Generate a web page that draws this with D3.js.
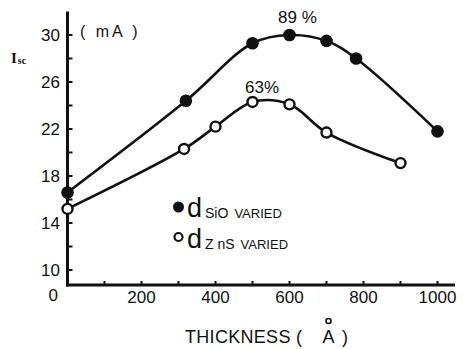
<!DOCTYPE html>
<html>
<head>
<meta charset="utf-8">
<script src="https://cdn.jsdelivr.net/npm/d3@7"></script>
<style>
  html, body { margin: 0; padding: 0; background: #fff; }
  svg { display: block; }
  text { font-family: "Liberation Sans", Arial, sans-serif; fill: #111; }
</style>
</head>
<body>
<svg id="chart" width="464" height="349"></svg>
<script>
// thickness in angstrom, Isc in mA
const sioThickness = [0, 320, 500, 600, 700, 780, 1000];
const sioIsc = [16.6, 24.4, 29.3, 30.0, 29.5, 28.0, 21.8];
const znsThickness = [0, 315, 400, 500, 600, 700, 900];
const znsIsc = [15.2, 20.3, 22.2, 24.3, 24.1, 21.7, 19.1];

const yTickLabels = [0, 10, 14, 18, 22, 26, 30];
const yMinorTicks = [12, 16, 20, 24, 28];
const xTickLabels = [200, 400, 600, 800, 1000];
const xMinorTicks = [100, 200, 300, 400, 500, 600, 700, 800, 900, 1000];

const svg = d3.select("#chart");
const ink = "#111";

const x = d3.scaleLinear().domain([0, 1000]).range([67.5, 437.5]);
// the axis is broken below 10: 0..10 squeezed into a short stretch
const y = d3.scaleLinear().domain([0, 10, 32]).range([285, 270, 11.5]);

// axes
svg.append("line")
  .attr("x1", x(0)).attr("x2", x(0))
  .attr("y1", y(32)).attr("y2", y(0) + 1.5)
  .attr("stroke", ink).attr("stroke-width", 3);
svg.append("line")
  .attr("x1", x(0) - 1.5).attr("x2", 455)
  .attr("y1", y(0)).attr("y2", y(0))
  .attr("stroke", ink).attr("stroke-width", 3);

svg.append("g")
  .selectAll("line")
  .data(yTickLabels.filter(d => d > 0).concat(yMinorTicks))
  .enter()
  .append("line")
  .attr("x1", x(0)).attr("x2", x(0) + 5)
  .attr("y1", d => y(d)).attr("y2", d => y(d))
  .attr("stroke", ink).attr("stroke-width", 2);

svg.append("g")
  .selectAll("line")
  .data(xMinorTicks)
  .enter()
  .append("line")
  .attr("x1", d => x(d)).attr("x2", d => x(d))
  .attr("y1", y(0)).attr("y2", y(0) - 4)
  .attr("stroke", ink).attr("stroke-width", 2);

svg.append("g")
  .selectAll("text")
  .data(yTickLabels)
  .enter()
  .append("text")
  .attr("x", d => d === 0 ? 58 : 60)
  .attr("y", d => d === 0 ? y(0) + 16 : y(d) + 6)
  .attr("text-anchor", "end")
  .attr("font-size", 17)
  .text(d => d);

svg.append("g")
  .selectAll("text")
  .data(xTickLabels)
  .enter()
  .append("text")
  .attr("x", d => x(d))
  .attr("y", 303)
  .attr("text-anchor", "middle")
  .attr("font-size", 17)
  .text(d => d);

// axis titles
const isc = svg.append("text")
  .attr("x", 11).attr("y", 63)
  .style("font-family", "'Liberation Serif', serif")
  .attr("font-size", 15).attr("font-weight", "bold");
isc.append("tspan").text("I");
isc.append("tspan").attr("font-size", 10).attr("dy", 1).attr("dx", 1).text("sc");

svg.append("text")
  .attr("x", 80).attr("y", 37)
  .attr("font-size", 16)
  .style("letter-spacing", "3px")
  .text("( mA )");

svg.append("text")
  .attr("x", 185).attr("y", 343)
  .attr("font-size", 18)
  .style("letter-spacing", "0.3px")
  .text("THICKNESS (");
svg.append("text")
  .attr("x", 328.5).attr("y", 343)
  .attr("text-anchor", "middle")
  .attr("font-size", 18)
  .text("A");
svg.append("text")
  .attr("x", 342).attr("y", 343)
  .attr("font-size", 18)
  .text(")");
svg.append("circle")
  .attr("cx", 328.5).attr("cy", 321).attr("r", 2.5)
  .attr("fill", "none").attr("stroke", ink).attr("stroke-width", 1.6);

// series
const line = d3.line()
  .x(d => x(d[0]))
  .y(d => y(d[1]))
  .curve(d3.curveCatmullRom.alpha(0.5));

const sio = d3.zip(sioThickness, sioIsc);
const zns = d3.zip(znsThickness, znsIsc);

[sio, zns].forEach(pts => {
  svg.append("path")
    .attr("d", line(pts))
    .attr("fill", "none")
    .attr("stroke", ink)
    .attr("stroke-width", 2.6);
});

svg.append("g")
  .selectAll("circle")
  .data(sio)
  .enter()
  .append("circle")
  .attr("cx", d => x(d[0])).attr("cy", d => y(d[1]))
  .attr("r", 6.3)
  .attr("fill", ink);

svg.append("g")
  .selectAll("circle")
  .data(zns)
  .enter()
  .append("circle")
  .attr("cx", d => x(d[0])).attr("cy", d => y(d[1]))
  .attr("r", 5)
  .attr("fill", "#fff")
  .attr("stroke", ink).attr("stroke-width", 2.4);

// peak efficiency labels
svg.append("text")
  .attr("x", 278).attr("y", 23)
  .attr("font-size", 17)
  .text("89 %");
svg.append("text")
  .attr("x", 245).attr("y", 93)
  .attr("font-size", 17)
  .text("63%");

// legend
const legend = [
  { sub: "SiO", filled: true, cy: 207, base: 217 },
  { sub: "Z nS", filled: false, cy: 237, base: 248 }
];
legend.forEach(l => {
  svg.append("circle")
    .attr("cx", 178.5).attr("cy", l.cy)
    .attr("r", l.filled ? 5.5 : 4)
    .attr("fill", l.filled ? ink : "#fff")
    .attr("stroke", ink).attr("stroke-width", l.filled ? 0 : 2.2);
  const t = svg.append("text")
    .attr("x", 187).attr("y", l.base)
    .attr("font-size", 27);
  t.append("tspan").text("d");
  t.append("tspan").attr("font-size", 14).attr("dy", 1).attr("dx", 3).text(l.sub);
  t.append("tspan").attr("font-size", 13).attr("dx", 6).text("VARIED");
});
</script>
</body>
</html>
